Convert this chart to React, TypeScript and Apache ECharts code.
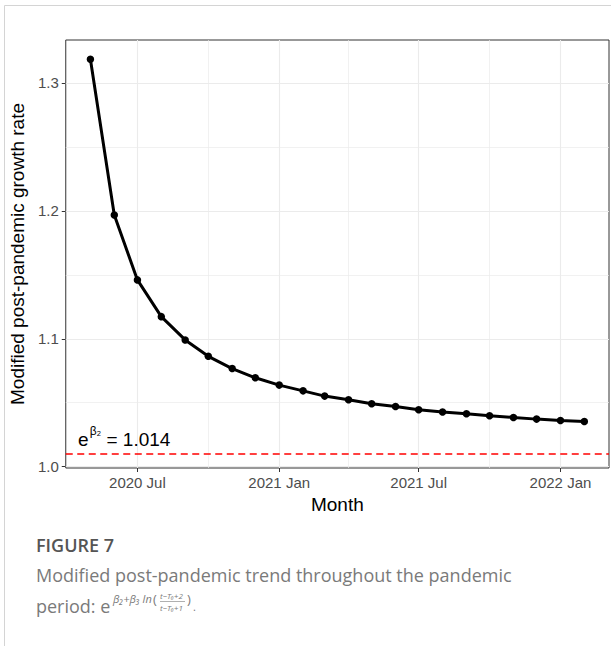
import React, { useEffect, useRef } from "react";
import * as echarts from "echarts";

// ---- data ----
const months: string[] = [
  "2020-05-01", "2020-06-01", "2020-07-01", "2020-08-01", "2020-09-01", "2020-10-01",
  "2020-11-01", "2020-12-01", "2021-01-01", "2021-02-01", "2021-03-01", "2021-04-01",
  "2021-05-01", "2021-06-01", "2021-07-01", "2021-08-01", "2021-09-01", "2021-10-01",
  "2021-11-01", "2021-12-01", "2022-01-01", "2022-02-01",
];
const rates: number[] = [
  1.3185, 1.1967, 1.146, 1.1173, 1.0991, 1.0863,
  1.0767, 1.0695, 1.0638, 1.0593, 1.0552, 1.0523,
  1.0492, 1.0471, 1.0445, 1.0427, 1.0414, 1.0398,
  1.0385, 1.0372, 1.0361, 1.0354,
];
const xTickDates: string[] = ["2020-07-01", "2021-01-01", "2021-07-01", "2022-01-01"];
const xMinorDates: string[] = ["2020-10-01", "2021-04-01", "2021-10-01"];
const yTicks: number[] = [1.0, 1.1, 1.2, 1.3];
const yMinorTicks: number[] = [1.05, 1.15, 1.25];
const refValue = 1.014;
const refLabelAt: [string, number] = ["2020-04-15", 1.0235];
const xRange: [string, string] = ["2020-03-30", "2022-03-05"];
const yRange: [number, number] = [0.999, 1.3335];
const monthNames = ["Jan", "Feb", "Mar", "Apr", "May", "Jun", "Jul", "Aug", "Sep", "Oct", "Nov", "Dec"];

const ts = (s: string) => {
  const [y, m, d] = s.split("-").map(Number);
  return Date.UTC(y, m - 1, d);
};

const FONT = "'Liberation Sans', Arial, sans-serif";
const CAP_FONT = "'Open Sans', 'Noto Sans', sans-serif";

export default function App() {
  const ref = useRef<HTMLDivElement>(null);
  useEffect(() => {
    if (!ref.current) return;
    const chart = echarts.init(ref.current, undefined, { renderer: "svg" });
    const seriesData = months.map((m, i) => [ts(m), rates[i]]);
    const gridColor = "#EBEBEB";
    const gridLines = [
      ...xTickDates.map((d) => ({ xAxis: ts(d), lineStyle: { color: gridColor, width: 1.1, type: "solid" } })),
      ...xMinorDates.map((d) => ({ xAxis: ts(d), lineStyle: { color: gridColor, width: 0.7, type: "solid" } })),
      ...yTicks.map((v) => ({ yAxis: v, lineStyle: { color: gridColor, width: 1.1, type: "solid" } })),
      ...yMinorTicks.map((v) => ({ yAxis: v, lineStyle: { color: gridColor, width: 0.7, type: "solid" } })),
    ];
    const capColor = "#7a7a7a";
    chart.setOption({
      animation: false,
      backgroundColor: "#ffffff",
      grid: {
        left: 64, right: 2, top: 40, bottom: 178,
        show: true, borderColor: "#333333", borderWidth: 1, backgroundColor: "#ffffff",
      },
      xAxis: {
        type: "value",
        min: ts(xRange[0]),
        max: ts(xRange[1]),
        splitLine: { show: false },
        axisLine: { show: false },
        axisTick: { show: true, length: 4, lineStyle: { color: "#333333" }, customValues: xTickDates.map(ts) },
        axisLabel: {
          customValues: xTickDates.map(ts),
          color: "#4D4D4D", fontSize: 15, fontFamily: FONT, margin: 7,
          formatter: (v: number) => {
            const d = new Date(v);
            return d.getUTCFullYear() + " " + monthNames[d.getUTCMonth()];
          },
        },
        name: "Month",
        nameLocation: "middle",
        nameGap: 26,
        nameTextStyle: { color: "#000000", fontSize: 19, fontFamily: FONT },
      },
      yAxis: {
        type: "value",
        min: yRange[0],
        max: yRange[1],
        splitLine: { show: false },
        axisLine: { show: false },
        axisTick: { show: true, length: 4, lineStyle: { color: "#333333" }, customValues: yTicks },
        axisLabel: {
          customValues: yTicks,
          color: "#4D4D4D", fontSize: 15, fontFamily: FONT, margin: 7,
          formatter: (v: number) => v.toFixed(1),
        },
        name: "Modified post-pandemic growth rate",
        nameLocation: "middle",
        nameGap: 35,
        nameTextStyle: { color: "#000000", fontSize: 19, fontFamily: FONT },
      },
      series: [
        {
          type: "line",
          data: seriesData,
          symbol: "none",
          lineStyle: { opacity: 0 },
          silent: true,
          z: 1,
          markLine: { silent: true, symbol: "none", label: { show: false }, data: gridLines, animation: false },
        },
        {
          type: "line",
          data: seriesData,
          symbol: "none",
          lineStyle: { opacity: 0 },
          silent: true,
          z: 2,
          markLine: {
            silent: true, symbol: "none", label: { show: false }, animation: false,
            data: [{ yAxis: refValue, lineStyle: { color: "#FF0000", width: 1.5, type: [7, 4.5] } }],
          },
          markPoint: {
            silent: true,
            animation: false,
            data: [
              {
                coord: [ts(refLabelAt[0]), refLabelAt[1]],
                symbol: "circle",
                symbolSize: 0,
                label: {
                  show: true,
                  position: "right",
                  distance: 0,
                  formatter: "{e|e}{s|β₂}{t| = " + refValue.toFixed(3) + "}",
                  rich: {
                    e: { fontSize: 19, fontFamily: FONT, color: "#000", verticalAlign: "bottom", lineHeight: 24 },
                    s: { fontSize: 12, fontFamily: FONT, color: "#000", verticalAlign: "top", lineHeight: 24, padding: [0, 0, 0, 1] },
                    t: { fontSize: 19, fontFamily: FONT, color: "#000", verticalAlign: "bottom", lineHeight: 24 },
                  },
                },
              },
            ],
          },
        },
        {
          type: "line",
          data: seriesData,
          symbol: "circle",
          symbolSize: 7.5,
          showSymbol: true,
          lineStyle: { color: "#000000", width: 3 },
          itemStyle: { color: "#000000" },
          z: 5,
        },
      ],
      graphic: [
        { type: "line", shape: { x1: 4.5, y1: 5.5, x2: 611, y2: 5.5 }, style: { stroke: "#d4d4d4", lineWidth: 1 }, silent: true },
        { type: "line", shape: { x1: 4.5, y1: 5.5, x2: 4.5, y2: 646 }, style: { stroke: "#d4d4d4", lineWidth: 1 }, silent: true },
        {
          type: "text", left: 36, top: 536,
          style: { text: "FIGURE 7", fill: "#555555", font: "600 18px " + CAP_FONT },
        },
        {
          type: "text", left: 36, top: 566,
          style: { text: "Modified post-pandemic trend throughout the pandemic", fill: capColor, font: "18px " + CAP_FONT },
        },
        {
          type: "text", left: 36, top: 597,
          style: { text: "period: e", fill: capColor, font: "18px " + CAP_FONT },
        },
        {
          type: "text", left: 113, top: 593,
          style: { text: "β₂+β₃ ln", fill: capColor, font: "italic 11px " + CAP_FONT },
        },
        {
          type: "text", left: 153, top: 592,
          style: { text: "(", fill: capColor, font: "13px " + CAP_FONT },
        },
        {
          type: "text", left: 160, top: 591,
          style: { text: "t−T₀+2", fill: capColor, font: "italic 8px " + CAP_FONT },
        },
        { type: "line", shape: { x1: 160, y1: 601.5, x2: 185, y2: 601.5 }, style: { stroke: capColor, lineWidth: 0.6 }, silent: true },
        {
          type: "text", left: 160, top: 603,
          style: { text: "t−T₀+1", fill: capColor, font: "italic 8px " + CAP_FONT },
        },
        {
          type: "text", left: 187, top: 592,
          style: { text: ")", fill: capColor, font: "13px " + CAP_FONT },
        },
        {
          type: "text", left: 193, top: 601,
          style: { text: ".", fill: capColor, font: "11px " + CAP_FONT },
        },
      ],
    });
    return () => chart.dispose();
  }, []);
  return <div ref={ref} style={{ position: "absolute", left: 0, top: 0, width: 611, height: 646 }} />;
}
